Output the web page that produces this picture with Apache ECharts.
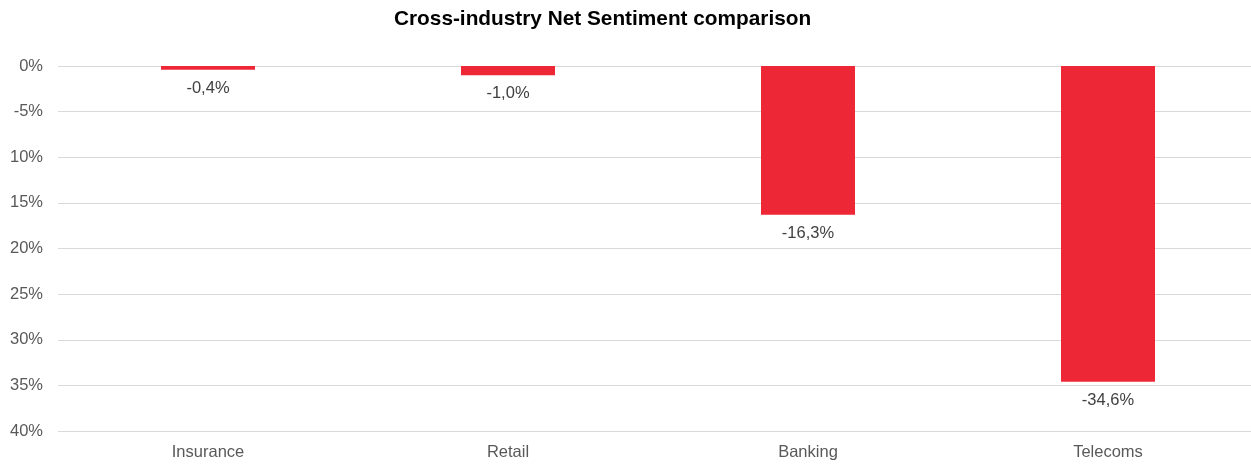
<!DOCTYPE html>
<html>
<head>
<meta charset="utf-8">
<script src="https://cdn.jsdelivr.net/npm/echarts@6/dist/echarts.min.js"></script>
<style>
  html, body { margin: 0; padding: 0; background: #ffffff; overflow: hidden; }
  #chart { width: 1258px; height: 464px; }
</style>
</head>
<body>
<div id="chart"></div>
<script>
// Industries and their net sentiment (%)
const categories = ['Insurance', 'Retail', 'Banking', 'Telecoms'];
const netSentiment = [-0.4, -1.0, -16.3, -34.6];
// Value-axis tick labels, from 0 down to -40 in steps of 5
const tickValues = [0, -5, -10, -15, -20, -25, -30, -35, -40];
const tickLabels = ['0%', '-5%', '10%', '15%', '20%', '25%', '30%', '35%', '40%'];

const chart = echarts.init(document.getElementById('chart'), null, { renderer: 'canvas' });

const font = '"Liberation Sans", Arial, sans-serif';

chart.setOption({
  animation: false,
  backgroundColor: '#ffffff',
  title: {
    text: 'Cross-industry Net Sentiment comparison',
    left: 389,
    top: 4,
    textStyle: {
      fontFamily: '"Liberation Sans", Arial, sans-serif',
      fontWeight: 'bold',
      fontSize: 20.8,
      color: '#000000'
    }
  },
  grid: {
    left: 58,
    top: 66,
    right: 0,
    height: 365,
    containLabel: false
  },
  xAxis: {
    type: 'category',
    data: categories,
    position: 'bottom',
    axisLine: { show: false },
    axisTick: { show: false },
    axisLabel: {
      margin: 13,
      fontFamily: font,
      fontSize: 16.5,
      color: '#595959'
    }
  },
  yAxis: {
    type: 'value',
    min: -40,
    max: 0,
    interval: 5,
    axisLine: { show: false },
    axisTick: { show: false },
    splitLine: { lineStyle: { color: '#d9d9d9', width: 1 } },
    axisLabel: {
      margin: 15,
      fontFamily: font,
      fontSize: 16.5,
      color: '#595959',
      padding: [3, 0, 0, 0],
      formatter: function (v) {
        const i = tickValues.indexOf(Math.round(v));
        return i >= 0 ? tickLabels[i] : '';
      }
    }
  },
  series: [{
    type: 'bar',
    data: netSentiment,
    barWidth: 94,
    itemStyle: { color: '#EE2737' },
    label: {
      show: true,
      position: 'bottom',
      distance: 10,
      fontFamily: font,
      fontSize: 16.5,
      color: '#404040',
      formatter: function (p) {
        return p.value.toFixed(1).replace('.', ',') + '%';
      }
    }
  }]
});
</script>
</body>
</html>
